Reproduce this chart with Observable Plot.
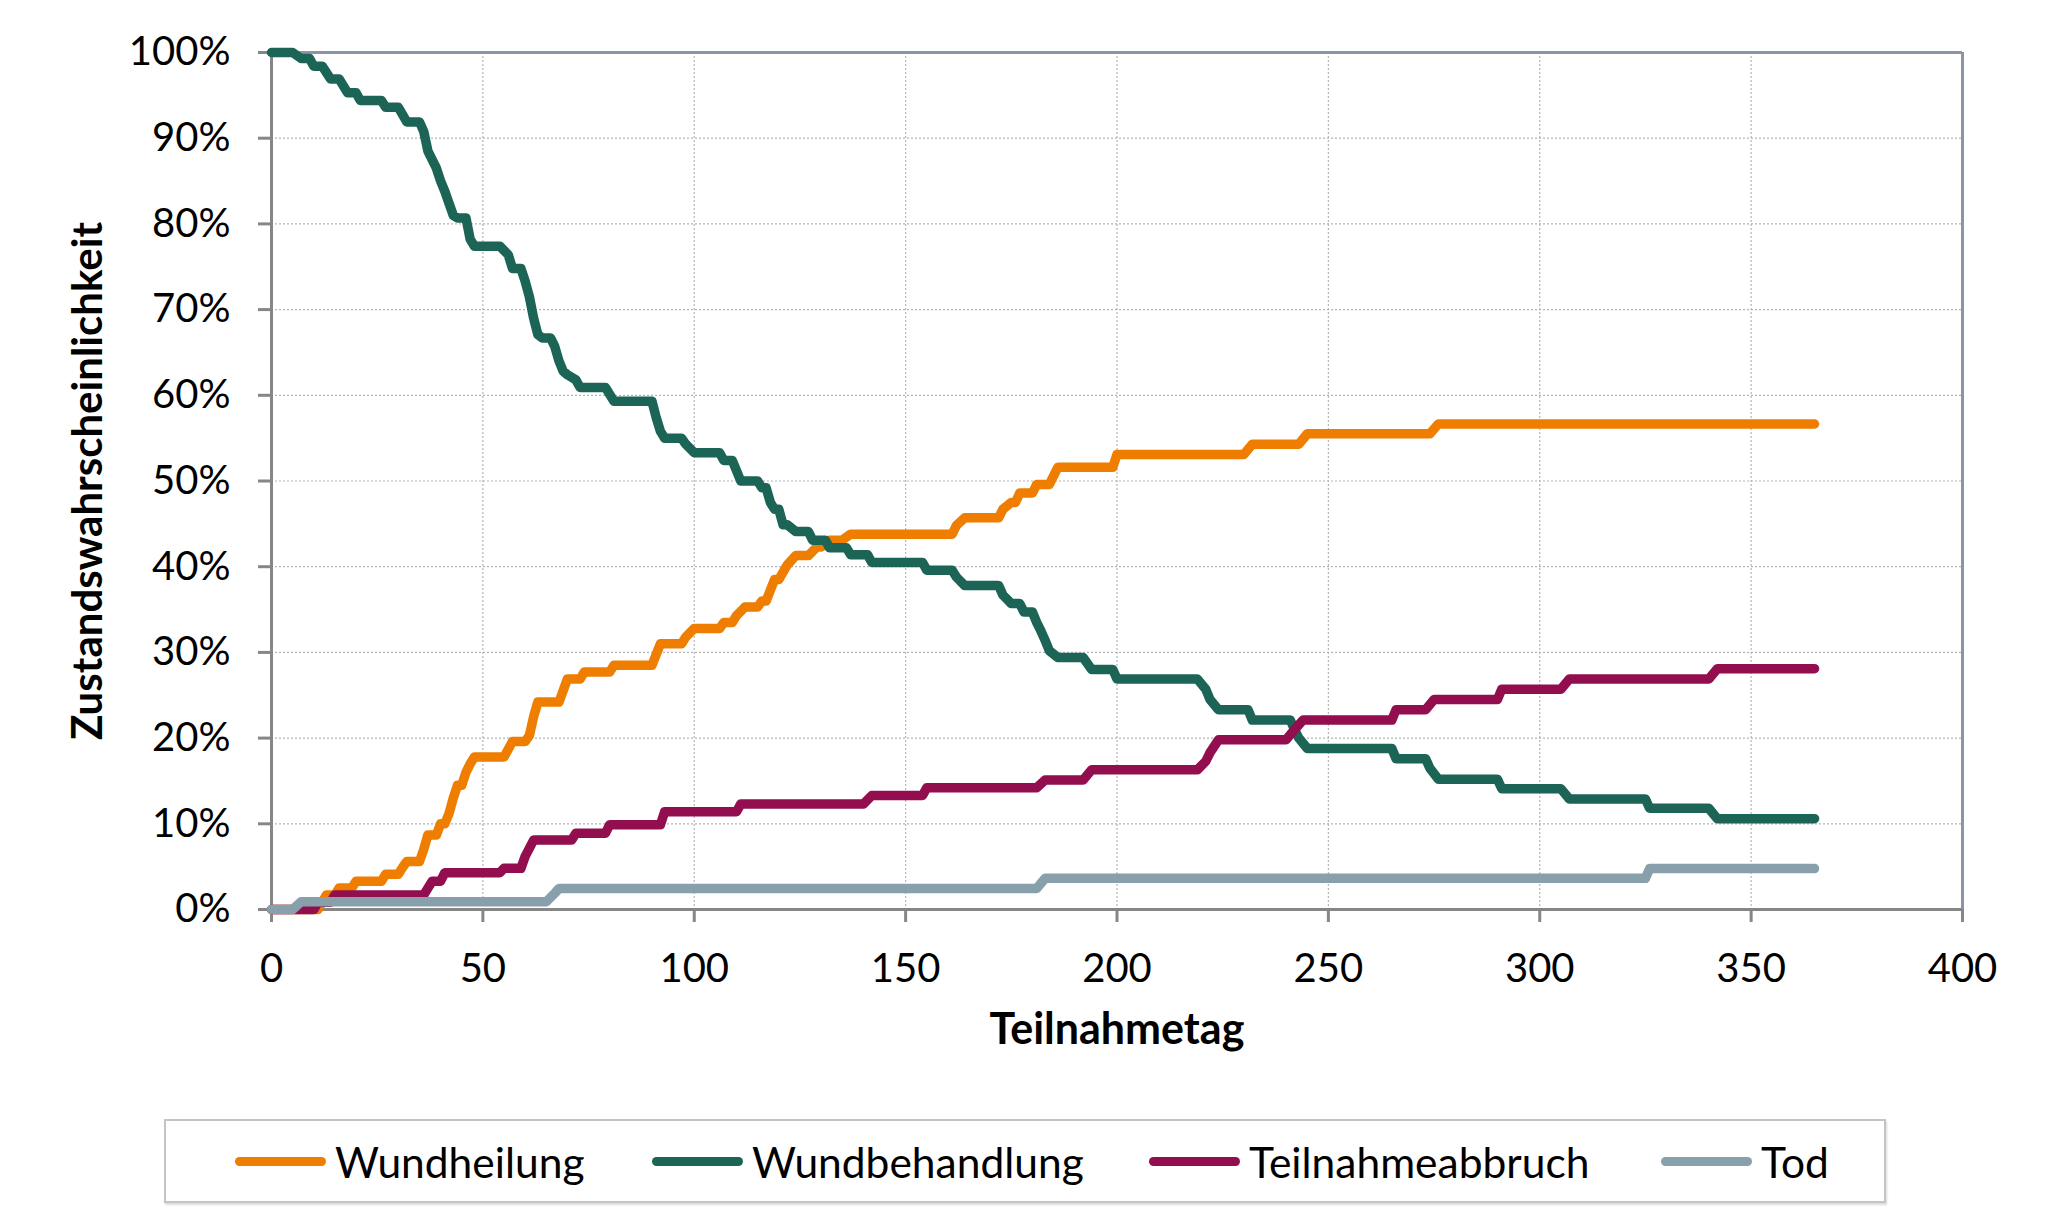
<!DOCTYPE html>
<html>
<head>
<meta charset="utf-8">
<script src="https://cdn.jsdelivr.net/npm/d3@7"></script>
<script src="https://cdn.jsdelivr.net/npm/@observablehq/plot@0.6"></script>
<style>
  html, body { margin: 0; padding: 0; background: #fff; }
  #wrap { position: relative; width: 2048px; height: 1231px; font-family: Lato, "Noto Sans", sans-serif; }
  #legend { position: absolute; left: 164px; top: 1119px; width: 1718px; height: 80px;
            border: 2px solid #c4c4c4; box-shadow: 1px 2px 2px rgba(0,0,0,0.15); background: #fff; }
  .item { position: absolute; top: 0; height: 80px; display: flex; align-items: center; font-size: 42.5px; color: #000; }
  .sw { width: 91px; height: 9px; border-radius: 5px; margin-right: 9px; }
</style>
</head>
<body>
<div id="wrap">
  <div id="chart"></div>
  <div id="legend"></div>
</div>
<script>
// ---- data (plateaus: [startDay, endDay, percent]) ----
const seriesNames = ["Wundheilung", "Wundbehandlung", "Teilnahmeabbruch", "Tod"];
const seriesColors = ["#ef7d00", "#1c6455", "#930e4f", "#88a0ab"];

const wundheilung = [
  [0,11,0],[12,12,0.85],[13,15,1.7],[16,19,2.5],[20,26,3.3],[27,30,4.1],[31,31,4.9],[32,35,5.6],
  [36,36,7],[37,39,8.7],[40,41,10],[42,42,11.2],[43,43,13],[44,45,14.5],[46,46,16],[47,47,17],
  [48,55,17.8],[57,60,19.6],[61,61,20.3],[62,62,22.5],[63,68,24.2],[70,73,26.9],[74,80,27.7],
  [81,90,28.5],[92,97,31],[98,98,31.8],[100,106,32.8],[107,109,33.5],[110,110,34.3],[112,115,35.3],
  [116,117,36],[119,120,38.5],[122,122,40.2],[124,127,41.3],[129,130,42.3],[132,135,43.1],
  [137,161,43.8],[162,162,44.8],[164,172,45.7],[173,173,46.7],[175,176,47.5],[177,180,48.6],
  [181,184,49.6],[186,199,51.6],[200,230,53.1],[232,243,54.3],[245,274,55.5],[276,365,56.65]
];
const wundbehandlung = [
  [0,5,100],[7,9,99.3],[10,12,98.4],[14,16,96.9],[18,20,95.3],[21,26,94.4],[27,30,93.6],[32,35,91.9],
  [36,36,90.8],[37,37,88.5],[38,38,87.5],[39,39,86.5],[40,40,85],[41,41,83.8],[43,43,81],[44,46,80.7],
  [47,47,78.2],[48,54,77.4],[56,56,76.4],[57,59,74.8],[60,60,73.3],[61,61,71.5],[62,62,69],[63,63,67.1],
  [64,66,66.7],[67,67,65.7],[68,68,64],[69,69,62.8],[70,70,62.4],[72,72,61.8],[73,79,60.9],[81,90,59.3],
  [91,91,57.4],[92,92,55.8],[93,97,55],[98,98,54.3],[100,106,53.3],[107,109,52.4],[110,110,51.2],
  [111,115,50],[116,117,49.2],[118,118,47.5],[119,120,46.7],[121,122,44.9],[124,127,44.1],[128,131,43.1],
  [132,136,42.2],[137,141,41.4],[142,154,40.5],[155,161,39.6],[162,162,38.8],[164,172,37.8],[173,173,36.7],
  [175,177,35.7],[178,180,34.7],[181,181,33.5],[182,182,32.5],[183,183,31.4],[184,184,30.2],[186,192,29.4],
  [194,199,28],[200,219,26.9],[221,221,25.7],[222,222,24.5],[224,231,23.3],[232,241,22.1],[242,242,21],
  [243,243,20],[245,265,18.8],[266,273,17.6],[274,274,16.5],[276,290,15.2],[291,305,14.1],[307,325,12.9],
  [326,340,11.8],[342,365,10.6]
];
const teilnahmeabbruch = [
  [0,10,0],[11,14,0.85],[15,36,1.7],[38,40,3.3],[41,54,4.3],[55,59,4.8],[60,60,6.2],[62,71,8.1],
  [72,79,8.9],[80,92,9.9],[93,110,11.4],[111,140,12.3],[142,154,13.3],[155,181,14.2],[183,192,15.1],
  [194,219,16.3],[221,221,17.3],[222,222,18.3],[224,240,19.8],[242,242,21],[244,265,22.1],[266,273,23.3],
  [275,290,24.5],[291,305,25.7],[307,340,26.9],[342,365,28.1]
];
const tod = [
  [0,5,0],[7,65,0.9],[67,67,1.9],[68,181,2.45],[183,325,3.65],[326,365,4.77]
];

const xTicks = [0, 50, 100, 150, 200, 250, 300, 350, 400];
const yTicks = [0, 10, 20, 30, 40, 50, 60, 70, 80, 90, 100];
const xTitle = "Teilnahmetag";
const yTitle = "Zustandswahrscheinlichkeit";

// ---- build table ----
const seriesData = [wundheilung, wundbehandlung, teilnahmeabbruch, tod];
const rows = [];
seriesData.forEach((plateaus, i) => {
  plateaus.forEach(([s, e, v]) => {
    rows.push({series: seriesNames[i], day: s, value: v});
    if (e !== s) rows.push({series: seriesNames[i], day: e, value: v});
  });
});

const frameColor = "#8a96a8";
const axisColor = "#868686";

const lineMarks = seriesNames.map((name, i) =>
  Plot.line(rows.filter(r => r.series === name), {
    x: "day", y: "value", stroke: seriesColors[i], strokeWidth: 9.5,
    strokeLinecap: "round", strokeLinejoin: "round"
  })
);

const chart = Plot.plot({
  width: 2048,
  height: 1100,
  marginLeft: 271,
  marginRight: 86,
  marginTop: 52,
  marginBottom: 191,
  style: {fontFamily: "Lato, 'Noto Sans', sans-serif", fontSize: "40px", color: "#000", background: "#fff", overflow: "visible"},
  x: {domain: [0, 400]},
  y: {domain: [0, 100]},
  marks: [
    Plot.gridX(xTicks.slice(1, -1), {stroke: "#b4b4b4", strokeOpacity: 1, strokeWidth: 1.2, strokeDasharray: "2,2"}),
    Plot.gridY(yTicks.slice(1, -1), {stroke: "#b4b4b4", strokeOpacity: 1, strokeWidth: 1.2, strokeDasharray: "2,2"}),
    Plot.ruleY([100], {stroke: frameColor, strokeWidth: 3}),
    Plot.ruleX([400], {stroke: frameColor, strokeWidth: 3}),
    Plot.axisX(xTicks, {tickSize: 13, tickPadding: 31, stroke: axisColor, strokeWidth: 3, label: null, fontSize: 40}),
    Plot.axisY(yTicks, {tickSize: 13, tickPadding: 28, stroke: axisColor, strokeWidth: 3, label: null, fontSize: 40,
      tickFormat: d => d + "%"}),
    Plot.ruleX([0], {stroke: axisColor, strokeWidth: 3}),
    Plot.ruleY([0], {stroke: axisColor, strokeWidth: 3}),
    ...lineMarks,
    Plot.text([xTitle], {frameAnchor: "bottom", dy: 134, fontWeight: "bold", fontSize: 43}),
    Plot.text([yTitle], {frameAnchor: "left", textAnchor: "middle", dx: -183, rotate: -90, fontWeight: "bold", fontSize: 42})
  ]
});
document.getElementById("chart").appendChild(chart);

// ---- legend ----
const legendLefts = [69, 486, 983, 1495];
const legend = document.getElementById("legend");
seriesNames.forEach((name, i) => {
  const item = document.createElement("div");
  item.className = "item";
  item.style.left = legendLefts[i] + "px";
  const sw = document.createElement("div");
  sw.className = "sw";
  sw.style.background = seriesColors[i];
  const lab = document.createElement("span");
  lab.textContent = name;
  item.appendChild(sw);
  item.appendChild(lab);
  legend.appendChild(item);
});
</script>
</body>
</html>
